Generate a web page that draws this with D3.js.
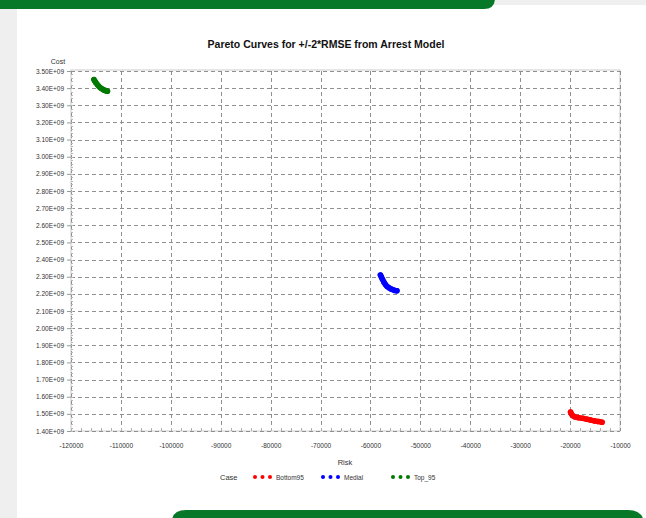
<!DOCTYPE html>
<html>
<head>
<meta charset="utf-8">
<script src="https://cdn.jsdelivr.net/npm/d3@7/dist/d3.min.js"></script>
<style>
  html, body { margin: 0; padding: 0; background: #efefef; }
  svg { display: block; }
  text { font-family: "Liberation Sans", Arial, sans-serif; }
</style>
</head>
<body>
<svg id="chart" width="646" height="518"></svg>
<script>
// ---- data ----
const xTicks = [-120000, -110000, -100000, -90000, -80000, -70000, -60000, -50000, -40000, -30000, -20000, -10000];
const yTicks = [1.4e9, 1.5e9, 1.6e9, 1.7e9, 1.8e9, 1.9e9, 2.0e9, 2.1e9, 2.2e9, 2.3e9, 2.4e9, 2.5e9, 2.6e9, 2.7e9, 2.8e9, 2.9e9, 3.0e9, 3.1e9, 3.2e9, 3.3e9, 3.4e9, 3.5e9];
const caseNames = ["Bottom95", "Medial", "Top_95"];
const caseColors = ["#ff0000", "#0000ff", "#007a00"];

const bottomRisk = [-19900, -19700, -19400, -19000, -18300, -17500, -16700, -15900, -15100, -14300, -13600];
const bottomCost = [1.510e9, 1.498e9, 1.488e9, 1.482e9, 1.478e9, 1.474e9, 1.469e9, 1.464e9, 1.459e9, 1.455e9, 1.451e9];
const medialRisk = [-58000, -57800, -57600, -57300, -57000, -56700, -56300, -55900, -55500, -55100, -54700];
const medialCost = [2.310e9, 2.298e9, 2.285e9, 2.268e9, 2.255e9, 2.244e9, 2.236e9, 2.229e9, 2.224e9, 2.220e9, 2.218e9];
const topRisk = [-115400, -115200, -115000, -114700, -114400, -114100, -113800, -113500, -113200, -112900, -112700];
const topCost = [3.450e9, 3.440e9, 3.431e9, 3.420e9, 3.410e9, 3.402e9, 3.396e9, 3.391e9, 3.387e9, 3.384e9, 3.382e9];

const series = [
  { name: caseNames[0], color: caseColors[0], risk: bottomRisk, cost: bottomCost },
  { name: caseNames[1], color: caseColors[1], risk: medialRisk, cost: medialCost },
  { name: caseNames[2], color: caseColors[2], risk: topRisk, cost: topCost }
];

// ---- layout ----
const svg = d3.select("#chart");
const green = "#077827";

svg.append("rect").attr("x", 0).attr("y", 0).attr("width", 646).attr("height", 518).attr("fill", "#efefef");
svg.append("rect").attr("x", 17).attr("y", 5).attr("width", 629).attr("height", 513).attr("fill", "#ffffff");
svg.append("path").attr("fill", green)
  .attr("d", "M0,-10 H495 V-2 Q495,9 484,9 H0 Z");
svg.append("path").attr("fill", green)
  .attr("d", "M172,530 V522 Q172,510 186,510 H628 Q642,510 644,522 V530 Z");

const x = d3.scaleLinear().domain([-120000, -10000]).range([71, 620]);
const y = d3.scaleLinear().domain([1.4e9, 3.5e9]).range([431, 71]);

svg.append("rect").attr("x", 71).attr("y", 70).attr("width", 549).attr("height", 361)
  .attr("fill", "none").attr("stroke", "#cccccc").attr("stroke-width", 1);

const g = svg.append("g");
g.selectAll(".hg").data(yTicks).join("line")
  .attr("x1", 71).attr("x2", 620)
  .attr("y1", d => Math.round(y(d)) + 0.5).attr("y2", d => Math.round(y(d)) + 0.5)
  .attr("stroke", "#909090").attr("stroke-width", 1).attr("stroke-dasharray", "4,3");
g.selectAll(".vg").data(xTicks).join("line")
  .attr("x1", d => Math.round(x(d)) + 0.5).attr("x2", d => Math.round(x(d)) + 0.5)
  .attr("y1", 71).attr("y2", 431)
  .attr("stroke", "#909090").attr("stroke-width", 1).attr("stroke-dasharray", "4,3");

const xAxis = d3.axisBottom(x).tickValues(xTicks).tickSize(0).tickPadding(12).tickFormat(d => String(d));
const xg = svg.append("g").attr("transform", "translate(0,431)").call(xAxis);
xg.select(".domain").remove();
xg.selectAll("text").attr("font-size", "6.5px").attr("fill", "#333").attr("font-family", "Liberation Sans, Arial, sans-serif");

const yAxis = d3.axisLeft(y).tickValues(yTicks).tickSize(4).tickPadding(3)
  .tickFormat(d => (d / 1e9).toFixed(2) + "E+09");
const yg = svg.append("g").attr("transform", "translate(71,0)").call(yAxis);
yg.select(".domain").remove();
yg.selectAll("line").attr("stroke", "#999");
yg.selectAll("text").attr("font-size", "6.5px").attr("fill", "#333").attr("font-family", "Liberation Sans, Arial, sans-serif");

const xMinor = d3.range(-120000, -10000, 2000);
svg.append("g").selectAll("line").data(xMinor).join("line")
  .attr("x1", d => Math.round(x(d)) + 0.5).attr("x2", d => Math.round(x(d)) + 0.5)
  .attr("y1", 428).attr("y2", 431).attr("stroke", "#b0b0b0");
const yMinor = d3.range(1.4e9, 3.5e9, 0.02e9);
svg.append("g").selectAll("line").data(yMinor).join("line")
  .attr("x1", 71).attr("x2", 73)
  .attr("y1", d => Math.round(y(d)) + 0.5).attr("y2", d => Math.round(y(d)) + 0.5)
  .attr("stroke", "#b8b8b8");

svg.append("text").attr("x", 326).attr("y", 48).attr("text-anchor", "middle")
  .attr("font-size", "10.5px").attr("font-weight", "bold").attr("fill", "#111")
  .text("Pareto Curves for +/-2*RMSE from Arrest Model");
svg.append("text").attr("x", 58).attr("y", 64).attr("text-anchor", "middle")
  .attr("font-size", "7px").attr("fill", "#333").text("Cost");
svg.append("text").attr("x", 345).attr("y", 465).attr("text-anchor", "middle")
  .attr("font-size", "7.5px").attr("fill", "#333").text("Risk");

const line = d3.line().x(d => x(d[0])).y(d => y(d[1])).curve(d3.curveCatmullRom);
series.forEach(s => {
  const pts = s.risk.map((r, i) => [r, s.cost[i]]);
  svg.append("path").datum(pts).attr("d", line)
    .attr("fill", "none").attr("stroke", s.color).attr("stroke-width", 5.5)
    .attr("stroke-linecap", "round").attr("stroke-linejoin", "round");
  svg.append("g").selectAll("circle").data(pts).join("circle")
    .attr("cx", d => x(d[0])).attr("cy", d => y(d[1])).attr("r", 2.8).attr("fill", s.color);
});

const lg = svg.append("g").attr("transform", "translate(0,477)");
lg.append("text").attr("x", 220).attr("y", 2.5).attr("font-size", "7.5px").attr("fill", "#333").text("Case");
const legX = [255, 323, 393];
series.forEach((s, i) => {
  [0, 7.5, 15].forEach(dx => {
    lg.append("circle").attr("cx", legX[i] + dx).attr("cy", 0).attr("r", 2).attr("fill", s.color);
  });
  lg.append("text").attr("x", legX[i] + 21).attr("y", 2.5).attr("font-size", "6.5px").attr("fill", "#333").text(s.name);
});
</script>
</body>
</html>
